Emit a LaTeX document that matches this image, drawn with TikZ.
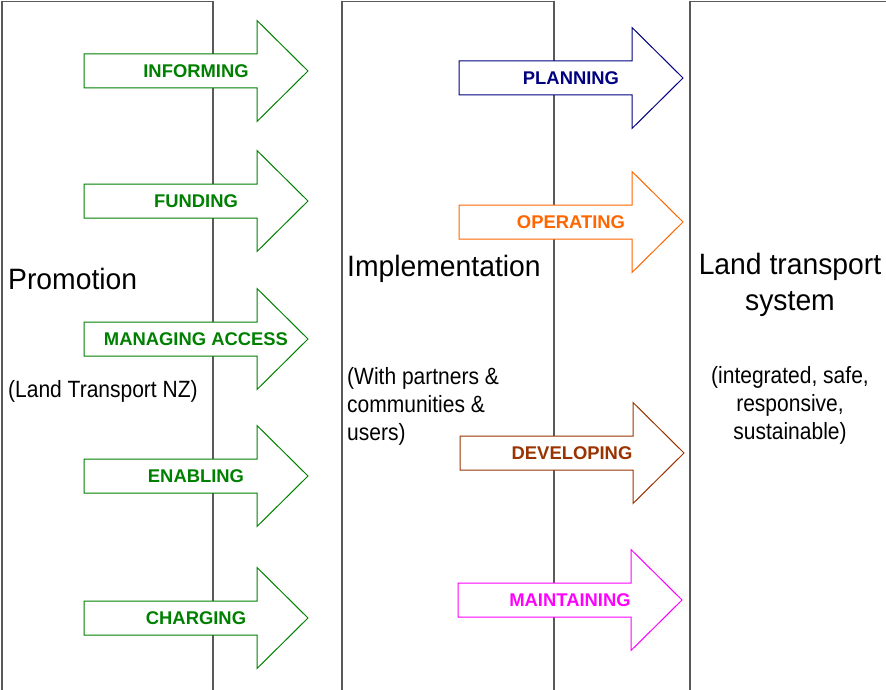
\documentclass[tikz,border=0pt]{standalone}
\usepackage{fontspec}
\setmainfont{Liberation Sans}
\usepackage{graphicx}
\definecolor{colline}{HTML}{5A5A5A}
\definecolor{cgreen}{HTML}{008000}
\definecolor{cnavy}{HTML}{000080}
\definecolor{corange}{HTML}{FF6600}
\definecolor{cbrown}{HTML}{993300}
\definecolor{cmagenta}{HTML}{FF00FF}
\newcommand\sy[1]{\scalebox{1}[1.12]{#1}}
\tikzset{
  colborder/.style={draw=colline, line width=1.5pt},
  arrowline/.style={line width=1pt, fill=white, line join=miter},
  arrowlabel/.style={inner sep=0pt, font=\bfseries\fontsize{18.4}{22}\selectfont},
  bigtext/.style={inner sep=0pt, font=\fontsize{28.3}{36}\selectfont, text=black},
  smalltext/.style={inner sep=0pt, font=\fontsize{21}{28}\selectfont, text=black},
}
% #1 name, #2 x, #3 y centre, #4 colour, #5 text
\newcommand\flowarrow[5]{%
  \draw[arrowline, draw=#4] (#2,#3-17) -- (#2+173,#3-17) -- (#2+173,#3-50.5)
    -- (#2+224,#3) -- (#2+173,#3+50.5) -- (#2+173,#3+17) -- (#2,#3+17) -- cycle;
  \node[arrowlabel, text=#4] (#1) at (#2+112,#3) {#5};
}
\begin{document}
\begin{tikzpicture}[x=1pt,y=-1pt]
\useasboundingbox (0,0) rectangle (886,690);
% columns
\draw[colborder] (2,691) -- (2,1.5) -- (213,1.5) -- (213,691);
\draw[colborder] (342,691) -- (342,1.5) -- (554,1.5) -- (554,691);
\draw[colborder] (690,691) -- (690,1.5) -- (887,1.5);
% texts
\node[bigtext, anchor=base west] (promo) at (8,289) {\scalebox{1}[1.04]{Promotion}};
\node[smalltext, anchor=base west] (ltnz) at (8,397) {\sy{(Land Transport NZ)}};
\node[bigtext, anchor=base west] (impl) at (347,276) {\scalebox{1}[1.04]{Implementation}};
\node[smalltext, anchor=base west, align=left] (partners) at (347,440)
  {\sy{(With partners \&}\\ \sy{communities \&}\\ \sy{users)}};
\node[bigtext, anchor=base, align=center] (lts) at (790,310)
  {\scalebox{1}[1.04]{Land transport}\\ \scalebox{1}[1.04]{system}};
\node[smalltext, anchor=base, align=center] (qual) at (790,439)
  {\sy{(integrated, safe,}\\ \sy{responsive,}\\ \sy{sustainable)}};
% left arrows
\flowarrow{informing}{84}{71}{cgreen}{INFORMING}
\flowarrow{funding}{84}{201}{cgreen}{FUNDING}
\flowarrow{managing}{84}{339}{cgreen}{MANAGING ACCESS}
\flowarrow{enabling}{84}{476}{cgreen}{ENABLING}
\flowarrow{charging}{84}{618}{cgreen}{CHARGING}
% right arrows
\flowarrow{planning}{459}{78}{cnavy}{PLANNING}
\flowarrow{operating}{459}{222}{corange}{OPERATING}
\flowarrow{developing}{460}{453}{cbrown}{DEVELOPING}
\flowarrow{maintaining}{458}{600}{cmagenta}{MAINTAINING}
\end{tikzpicture}
\end{document}
